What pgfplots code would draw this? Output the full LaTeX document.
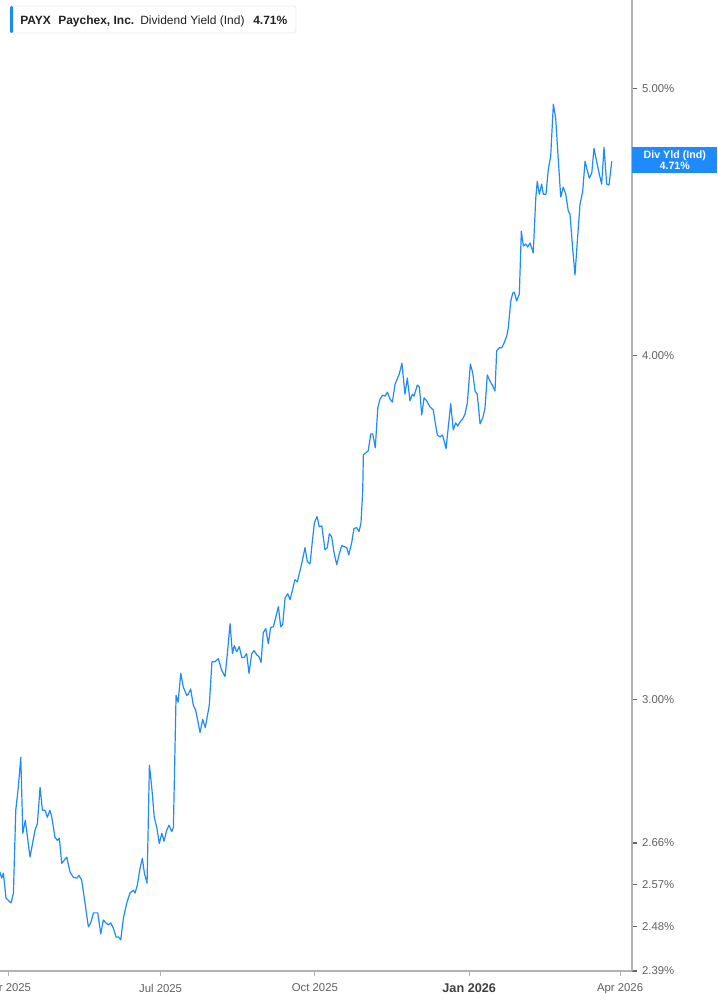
\documentclass[border=0pt]{standalone}
\usepackage{pgfplots}
\pgfplotsset{compat=1.18}
\usepackage{fontspec}
\setmainfont{Liberation Sans}
\definecolor{payxblue}{RGB}{30,138,252}
\definecolor{axisgray}{RGB}{178,178,178}
\definecolor{ticktext}{RGB}{96,96,96}
\definecolor{legtext}{RGB}{34,34,34}
\begin{document}
\begin{tikzpicture}
% x = days since 1 Apr 2025, y = indicated dividend yield in percent
\begin{axis}[
    scale only axis,
    width=474pt, height=728.25pt,
    xmin=-4.8, xmax=372.1,
    ymode=log, ymin=2.39, ymax=5.386,
    axis x line=bottom, axis y line=right,
    axis line style={-, draw=axisgray, line width=1.1pt},
    tick align=outside,
    major tick length=4pt,
    minor tick style={draw=none},
    major x tick style={draw=axisgray, line width=0.8pt},
    major y tick style={draw=black!60, line width=1pt},
    xtick={0,91,183,275,365},
    xticklabels={Apr 2025, Jul 2025, Oct 2025,
        {\fontsize{9.5}{11}\selectfont\bfseries\color{black!75}Jan 2026}, Apr 2026},
    ytick={2.39,2.48,2.57,2.66,3,4,5},
    yticklabels={2.39\%,2.48\%,2.57\%,2.66\%,3.00\%,4.00\%,5.00\%},
    xticklabel style={font=\fontsize{8.5}{10}\selectfont, text=ticktext, yshift=-2.2pt},
    yticklabel style={font=\fontsize{8.5}{10}\selectfont, text=ticktext},
]
\addplot[payxblue, line width=0.9pt, line join=round] table {
x y
-4.8 2.596
-3.8 2.583
-2.8 2.594
-1.2 2.540
1.8 2.530
3.2 2.551
4.6 2.734
6.1 2.787
7.6 2.858
8.8 2.682
10.3 2.711
13.1 2.629
16.1 2.689
17.5 2.704
19.1 2.787
20.5 2.734
22.1 2.734
23.4 2.718
25.0 2.734
26.1 2.718
28.0 2.673
29.4 2.666
30.6 2.671
32.0 2.615
35.0 2.629
37.0 2.596
38.9 2.585
41.0 2.583
42.3 2.589
43.9 2.579
45.9 2.530
47.9 2.480
49.3 2.488
50.9 2.509
53.5 2.509
55.3 2.465
56.8 2.494
58.4 2.488
59.8 2.484
61.2 2.488
62.8 2.477
64.4 2.459
65.8 2.459
67.2 2.453
68.8 2.498
70.8 2.530
72.7 2.551
74.7 2.557
75.7 2.551
77.1 2.568
78.7 2.604
80.1 2.626
81.3 2.594
82.9 2.572
84.3 2.839
85.7 2.787
87.2 2.718
88.7 2.695
90.2 2.659
91.7 2.682
93.0 2.664
94.6 2.689
96.0 2.700
97.6 2.686
98.6 2.695
100.2 3.010
101.4 2.993
103.0 3.066
104.5 3.031
106.6 3.010
107.5 3.013
108.9 3.026
110.5 2.985
111.9 2.973
114.5 2.918
116.1 2.950
117.6 2.930
120.0 2.985
121.6 3.096
123.4 3.096
125.4 3.104
127.4 3.074
129.4 3.058
130.8 3.117
132.4 3.196
133.8 3.117
134.9 3.138
136.4 3.122
137.9 3.135
139.4 3.107
140.7 3.107
142.3 3.117
143.7 3.066
145.3 3.117
146.7 3.125
148.3 3.114
149.7 3.109
150.9 3.094
152.2 3.172
153.7 3.183
155.2 3.143
156.6 3.186
158.2 3.188
159.6 3.212
161.2 3.242
162.6 3.188
163.8 3.194
165.2 3.266
166.8 3.277
168.2 3.261
169.8 3.291
171.1 3.316
172.5 3.310
174.1 3.341
175.5 3.369
177.1 3.406
178.5 3.366
180.1 3.360
181.5 3.426
182.7 3.478
184.3 3.496
185.6 3.466
187.1 3.469
189.0 3.400
190.4 3.406
191.6 3.446
193.0 3.437
194.4 3.392
196.0 3.358
197.4 3.386
199.0 3.412
200.4 3.409
202.0 3.406
203.2 3.386
204.9 3.420
206.3 3.461
207.9 3.464
209.3 3.452
210.5 3.478
211.5 3.572
211.9 3.681
214.8 3.694
216.3 3.746
217.5 3.746
219.0 3.703
220.5 3.829
221.8 3.857
223.4 3.870
224.8 3.867
226.2 3.880
227.8 3.857
229.2 3.848
230.8 3.906
232.1 3.923
233.3 3.939
234.9 3.975
236.7 3.873
238.1 3.926
239.7 3.851
241.1 3.873
242.1 3.867
244.1 3.903
245.3 3.896
246.7 3.806
248.1 3.861
249.7 3.851
251.6 3.832
253.6 3.822
254.6 3.787
256.0 3.743
257.6 3.737
259.0 3.743
259.6 3.734
261.2 3.700
262.6 3.771
264.0 3.842
265.5 3.759
266.9 3.781
268.2 3.771
269.5 3.784
271.1 3.793
272.5 3.809
273.9 3.845
275.7 3.972
277.1 3.943
278.5 3.883
279.8 3.873
281.5 3.778
283.1 3.797
284.4 3.826
285.8 3.936
287.4 3.916
289.0 3.900
290.4 3.883
291.4 4.016
293.0 4.026
294.4 4.026
295.8 4.042
297.4 4.066
298.3 4.093
299.8 4.187
301.0 4.215
301.9 4.218
303.3 4.187
304.9 4.211
306.1 4.439
307.3 4.384
308.7 4.391
309.9 4.380
311.3 4.395
312.3 4.376
313.2 4.358
314.7 4.563
315.6 4.628
316.8 4.578
318.2 4.617
319.2 4.578
320.8 4.578
322.2 4.675
323.6 4.725
325.2 4.936
326.6 4.878
328.0 4.725
329.6 4.567
331.1 4.605
332.6 4.578
334.1 4.514
335.1 4.503
336.7 4.376
338.1 4.279
339.5 4.402
341.1 4.540
342.7 4.590
344.1 4.706
345.4 4.671
346.6 4.640
348.1 4.659
349.4 4.757
351.0 4.706
352.6 4.655
354.0 4.617
355.4 4.761
357.0 4.617
358.4 4.613
360.0 4.706
};
\end{axis}
% legend box, top left
\draw[rounded corners=2pt, draw=black!8, line width=0.6pt, fill=white]
    (7.5pt,703.5pt) rectangle (222pt,723.75pt);
\fill[payxblue, rounded corners=1pt] (7.5pt,703.5pt) rectangle (9.9pt,723.75pt);
\begin{scope}[every node/.style={anchor=base west, inner sep=0pt, text=legtext,
    font=\fontsize{9}{10}\selectfont}]
\node at (15pt,709.9pt) {\bfseries PAYX};
\node at (43.5pt,709.9pt) {\bfseries Paychex, Inc.};
\node at (105pt,709.9pt) {Dividend Yield (Ind)};
\node at (189.75pt,709.9pt) {\bfseries 4.71\%};
\end{scope}
% last value label on the right axis
\node[fill=payxblue, text=white, anchor=west, inner sep=0pt,
      minimum width=63.75pt, minimum height=19.5pt, align=center,
      font=\fontsize{8}{8.6}\selectfont\bfseries]
    at (474pt,608.25pt) {Div Yld (Ind)\\4.71\%};
\pgfresetboundingbox
\path[use as bounding box] (0pt,-25.5pt) rectangle (537.75pt,728.25pt);
\end{tikzpicture}
\end{document}
